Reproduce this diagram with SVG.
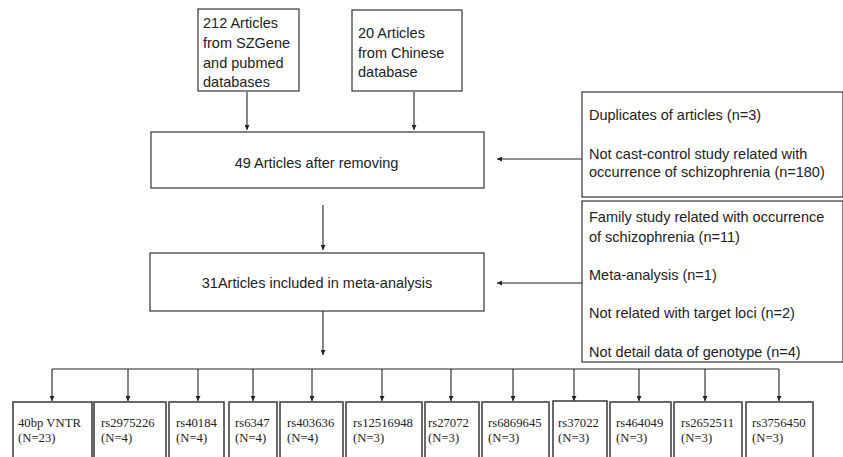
<svg xmlns="http://www.w3.org/2000/svg" width="843" height="457" viewBox="0 0 843 457">
<defs>
<marker id="ah" viewBox="0 0 10 10" refX="10" refY="5" markerWidth="5" markerHeight="5" orient="auto" markerUnits="userSpaceOnUse">
<path d="M0,0 L10,5 L0,10 z" fill="#222"/>
</marker>
<style>
.box{fill:#fff;stroke:#333;stroke-width:1.2}
.sbox{fill:#fff;stroke:#444;stroke-width:1.6}
.t{font-family:"Liberation Sans",Arial,sans-serif;font-size:14.5px;fill:#222}
.s{font-family:"Liberation Serif","Times New Roman",serif;font-size:12.7px;fill:#222}
.c{stroke:#222;stroke-width:1.1;fill:none}
.a{marker-end:url(#ah)}
</style>
</defs>
<rect width="843" height="457" fill="#fff"/>

<g id="connectors">
<line class="c a" x1="247" y1="92" x2="247" y2="130"/>
<line class="c a" x1="414" y1="92" x2="414" y2="130"/>
<line class="c a" x1="582" y1="159" x2="497" y2="159"/>
<line class="c a" x1="323" y1="205" x2="323" y2="250"/>
<line class="c a" x1="582" y1="283" x2="497" y2="283"/>
<line class="c a" x1="323" y1="311" x2="323" y2="355"/>
<line class="c" x1="52" y1="369" x2="779" y2="369"/>
<line class="c a" x1="52" y1="369" x2="52" y2="401"/>
<line class="c a" x1="128" y1="369" x2="128" y2="401"/>
<line class="c a" x1="198" y1="369" x2="198" y2="401"/>
<line class="c a" x1="253" y1="369" x2="253" y2="401"/>
<line class="c a" x1="312" y1="369" x2="312" y2="401"/>
<line class="c a" x1="382" y1="369" x2="382" y2="401"/>
<line class="c a" x1="451" y1="369" x2="451" y2="401"/>
<line class="c a" x1="513" y1="369" x2="513" y2="401"/>
<line class="c a" x1="574" y1="369" x2="574" y2="401"/>
<line class="c a" x1="639" y1="369" x2="639" y2="401"/>
<line class="c a" x1="705" y1="369" x2="705" y2="401"/>
<line class="c a" x1="779" y1="369" x2="779" y2="401"/>
</g>

<g id="src1">
<rect class="box" x="198" y="9" width="101" height="82"/>
<text class="t" x="203" y="28">212 Articles</text>
<text class="t" x="203" y="48">from SZGene</text>
<text class="t" x="203" y="68">and pubmed</text>
<text class="t" x="203" y="87">databases</text>
</g>

<g id="src2">
<rect class="box" x="352" y="10" width="110" height="81"/>
<text class="t" x="358" y="38">20 Articles</text>
<text class="t" x="358" y="58">from Chinese</text>
<text class="t" x="358" y="77">database</text>
</g>

<g id="after-removing">
<rect class="box" x="151" y="132" width="333" height="56"/>
<text class="t" x="316.5" y="168" text-anchor="middle">49 Articles after removing</text>
</g>

<g id="excl1">
<rect class="box" x="582" y="92" width="261" height="105"/>
<text class="t" x="589" y="120">Duplicates of articles (n=3)</text>
<text class="t" x="589" y="159">Not cast-control study related with</text>
<text class="t" x="589" y="177">occurrence of schizophrenia (n=180)</text>
</g>

<g id="excl2">
<rect class="box" x="582" y="201" width="261" height="161"/>
<text class="t" x="589" y="222">Family study related with occurrence</text>
<text class="t" x="589" y="242">of schizophrenia (n=11)</text>
<text class="t" x="589" y="280">Meta-analysis (n=1)</text>
<text class="t" x="589" y="318">Not related with target loci (n=2)</text>
<text class="t" x="589" y="357">Not detail data of genotype (n=4)</text>
</g>

<g id="included">
<rect class="box" x="150" y="253" width="334" height="58"/>
<text class="t" x="317" y="288" text-anchor="middle">31Articles included in meta-analysis</text>
</g>

<g id="b1"><rect class="sbox" x="13" y="402" width="79" height="60"/><text class="s" x="18" y="427">40bp VNTR</text><text class="s" x="18" y="442">(N=23)</text></g>
<g id="b2"><rect class="sbox" x="94" y="402" width="72" height="60"/><text class="s" x="101" y="427">rs2975226</text><text class="s" x="101" y="442">(N=4)</text></g>
<g id="b3"><rect class="sbox" x="169" y="402" width="55" height="60"/><text class="s" x="176" y="427">rs40184</text><text class="s" x="176" y="442">(N=4)</text></g>
<g id="b4"><rect class="sbox" x="229" y="402" width="48" height="60"/><text class="s" x="235" y="427">rs6347</text><text class="s" x="235" y="442">(N=4)</text></g>
<g id="b5"><rect class="sbox" x="280" y="402" width="63" height="60"/><text class="s" x="287" y="427">rs403636</text><text class="s" x="287" y="442">(N=4)</text></g>
<g id="b6"><rect class="sbox" x="346" y="402" width="76" height="60"/><text class="s" x="353" y="427">rs12516948</text><text class="s" x="353" y="442">(N=3)</text></g>
<g id="b7"><rect class="sbox" x="425" y="402" width="54" height="60"/><text class="s" x="428" y="427">rs27072</text><text class="s" x="428" y="442">(N=3)</text></g>
<g id="b8"><rect class="sbox" x="482" y="402" width="67" height="60"/><text class="s" x="488" y="427">rs6869645</text><text class="s" x="488" y="442">(N=3)</text></g>
<g id="b9"><rect class="sbox" x="553" y="401" width="54" height="61"/><text class="s" x="558" y="427">rs37022</text><text class="s" x="558" y="442">(N=3)</text></g>
<g id="b10"><rect class="sbox" x="610" y="402" width="61" height="60"/><text class="s" x="616" y="427">rs464049</text><text class="s" x="616" y="442">(N=3)</text></g>
<g id="b11"><rect class="sbox" x="674" y="402" width="68" height="60"/><text class="s" x="681" y="427">rs2652511</text><text class="s" x="681" y="442">(N=3)</text></g>
<g id="b12"><rect class="sbox" x="746" y="402" width="67" height="60"/><text class="s" x="752" y="427">rs3756450</text><text class="s" x="752" y="442">(N=3)</text></g>
</svg>
